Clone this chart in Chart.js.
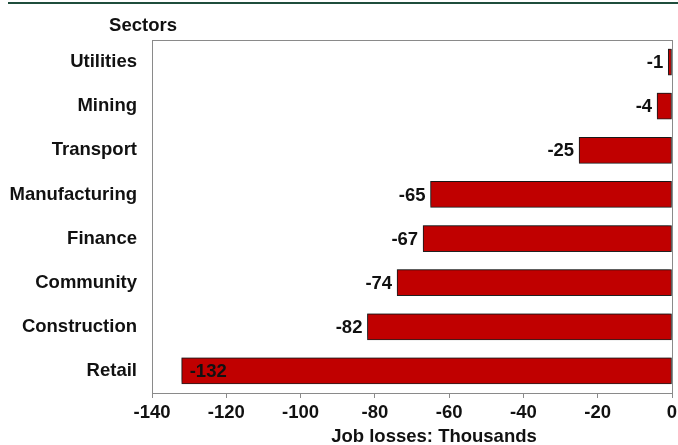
<!DOCTYPE html>
<html>
<head>
<meta charset="utf-8">
<script src="https://cdn.jsdelivr.net/npm/chart.js@4.4.1/dist/chart.umd.min.js"></script>
<style>
  html, body { margin: 0; padding: 0; background: #fff; }
  #wrap { position: relative; width: 678px; height: 445px; }
  #topline { position: absolute; left: 8px; top: 2px; width: 670px; height: 2px; background: #1f4d3c; }
  canvas { position: absolute; left: 0; top: 0; }
</style>
</head>
<body>
<div id="wrap">
  <canvas id="c" width="678" height="445"></canvas>
  <div id="topline"></div>
</div>
<script>
const categories = ["Utilities", "Mining", "Transport", "Manufacturing", "Finance", "Community", "Construction", "Retail"];
const jobLosses = [-1, -4, -25, -65, -67, -74, -82, -132];
const xTicks = [-140, -120, -100, -80, -60, -40, -20, 0];
const yTitle = "Sectors";
const xTitle = "Job losses: Thousands";

const FONT = "'Liberation Sans', Arial, sans-serif";
const FSIZE = 18.5;
const TXT = "#111111";

const shadowPlugin = {
  id: 'barShadow',
  beforeDatasetsDraw(chart) {
    const ctx = chart.ctx;
    ctx.save();
    ctx.shadowColor = 'rgba(0,0,0,0.4)';
    ctx.shadowBlur = 3;
    ctx.shadowOffsetX = -1;
    ctx.shadowOffsetY = -2;
  },
  afterDatasetsDraw(chart) {
    chart.ctx.restore();
  }
};

const framePlugin = {
  id: 'frame',
  beforeDatasetsDraw(chart) {
    const { ctx, chartArea: a } = chart;
    ctx.save();
    ctx.strokeStyle = '#8a8a8a';
    ctx.lineWidth = 1;
    ctx.strokeRect(Math.round(a.left) + 0.5, Math.round(a.top) + 0.5, Math.round(a.right - a.left), Math.round(a.bottom - a.top));
    ctx.restore();
  }
};

const labelPlugin = {
  id: 'labels',
  afterDatasetsDraw(chart) {
    const { ctx, chartArea: a } = chart;
    const meta = chart.getDatasetMeta(0);
    ctx.save();
    ctx.font = "bold " + FSIZE + "px " + FONT;
    ctx.fillStyle = TXT;
    ctx.textBaseline = 'middle';
    meta.data.forEach((bar, i) => {
      const txt = String(jobLosses[i]);
      const w = ctx.measureText(txt).width;
      const left = Math.min(bar.x, bar.base);
      if (left - 5 - w < a.left) {
        ctx.textAlign = 'left';
        ctx.fillText(txt, left + 8, bar.y + 1);
      } else {
        ctx.textAlign = 'right';
        ctx.fillText(txt, left - 5, bar.y + 1);
      }
    });
    ctx.textAlign = 'center';
    ctx.fillText(yTitle, a.left - 9, a.top - 14);
    ctx.fillText(xTitle, (a.left + a.right) / 2 + 22, chart.height - 8);
    ctx.restore();
  }
};

new Chart(document.getElementById('c'), {
  type: 'bar',
  data: {
    labels: categories,
    datasets: [{
      data: jobLosses,
      backgroundColor: '#c00000',
      borderColor: '#222222',
      borderWidth: 1,
      borderSkipped: false,
      barThickness: 26
    }]
  },
  options: {
    indexAxis: 'y',
    responsive: false,
    animation: false,
    devicePixelRatio: 1,
    layout: { padding: { top: 40, right: 0, left: 0, bottom: 0 } },
    plugins: { legend: { display: false }, tooltip: { enabled: false } },
    scales: {
      x: {
        min: xTicks[0],
        max: xTicks[xTicks.length - 1],
        afterBuildTicks(scale) { scale.ticks = xTicks.map(v => ({ value: v })); },
        afterFit(scale) { scale.height = 52; scale.paddingRight = 6; },
        grid: { display: true, drawOnChartArea: false, drawTicks: true, tickLength: 5, color: '#8a8a8a' },
        border: { display: true, color: '#8a8a8a' },
        ticks: { font: { family: FONT, size: FSIZE, weight: 'bold' }, color: TXT, padding: 4, maxRotation: 0 }
      },
      y: {
        afterFit(scale) { scale.width = 152; },
        grid: { display: false, drawTicks: false },
        border: { display: true, color: '#8a8a8a' },
        ticks: { font: { family: FONT, size: FSIZE, weight: 'bold' }, color: TXT, padding: 15 }
      }
    }
  },
  plugins: [framePlugin, shadowPlugin, labelPlugin]
});
</script>
</body>
</html>
